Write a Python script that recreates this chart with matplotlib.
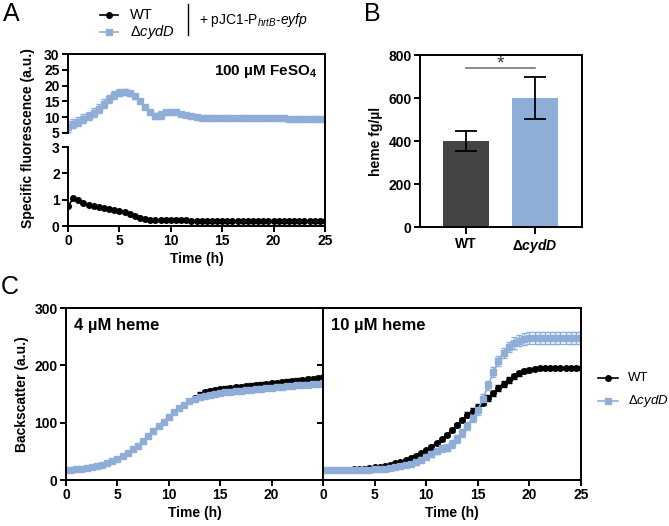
import numpy as np
import matplotlib
matplotlib.use('Agg')
import matplotlib.pyplot as plt
from matplotlib.lines import Line2D

plt.rcParams['font.family'] = ['Liberation Sans', 'DejaVu Sans']
plt.rcParams['mathtext.fontset'] = 'custom'
plt.rcParams['mathtext.rm'] = 'Liberation Sans'
plt.rcParams['mathtext.it'] = 'Liberation Sans:italic'
plt.rcParams['mathtext.bf'] = 'Liberation Sans:bold'
plt.rcParams['mathtext.bfit'] = 'Liberation Sans:italic:bold'

BLUE = '#8eaed8'
DARK = '#444444'

# ---- data ----
time_h = np.arange(0, 25.01, 0.5)

# A: specific fluorescence, 100 uM FeSO4
fl_wt = [0.75, 1.05, 0.97, 0.86, 0.79, 0.75, 0.73, 0.70, 0.65, 0.60, 0.57,
         0.52, 0.46, 0.39, 0.32, 0.27, 0.24, 0.23, 0.22, 0.22, 0.21, 0.21,
         0.21, 0.21, 0.20, 0.20, 0.20, 0.20, 0.20, 0.20, 0.20, 0.19, 0.19,
         0.19, 0.19, 0.19, 0.19, 0.19, 0.19, 0.19, 0.19, 0.18, 0.18, 0.18,
         0.18, 0.18, 0.18, 0.18, 0.18, 0.18, 0.18]
fl_cydd = [7.0, 8.0, 8.6, 9.5, 10.4, 11.4, 12.7, 14.3, 15.8, 17.0, 17.8,
           18.0, 17.6, 16.6, 15.0, 13.2, 11.6, 10.4, 10.7, 11.5, 11.8, 11.5,
           11.1, 10.7, 10.4, 10.1, 9.9, 9.8, 9.8, 9.8, 9.7, 9.7, 9.7,
           9.7, 9.7, 9.6, 9.6, 9.6, 9.6, 9.6, 9.6, 9.6, 9.6, 9.5,
           9.5, 9.5, 9.5, 9.5, 9.5, 9.5, 9.5]
fl_cydd_err = [1.8, 1.5, 1.4, 1.4, 1.4, 1.4, 1.4, 1.4, 1.3, 1.3, 1.2,
               1.0, 0.8, 0.7, 0.6, 0.6, 0.6, 0.9, 1.2, 0.7, 0.6, 0.5,
               0.5, 0.5, 0.5, 0.5, 0.5, 0.5, 0.5, 0.5, 0.5, 0.5, 0.5,
               0.5, 0.5, 0.5, 0.5, 0.5, 0.5, 0.5, 0.5, 0.5, 0.5, 0.5,
               0.5, 0.5, 0.5, 0.5, 0.5, 0.5, 0.6]

# B: heme content
strains = ['WT', 'Δ$\\mathbfit{cydD}$']
heme_mean = [400, 601]
heme_err = [45, 97]

# C: backscatter, 4 uM heme
bs4_wt = [17.5, 18, 18.5, 19.5, 20.5, 22, 24, 26.5, 29.5, 33, 37,
          41.5, 47, 53.5, 60, 68, 76, 85, 94, 102, 110, 118,
          125, 131.5, 138, 143, 149, 153, 155.5, 157, 158.5, 159.5, 160.5,
          161.5, 162.5, 163.5, 164.5, 165.5, 166.5, 167.5, 168.5, 169.5, 170.5,
          171.5, 172.5, 173.5, 174.5, 175.5, 176.5, 177.5, 178.5]
bs4_wt_err = [1, 1, 1, 1, 1, 1, 1, 1, 1, 1, 1,
              1, 1, 1, 1.5, 1.5, 1.5, 2, 2, 2, 2, 2.5,
              2.5, 3, 3, 3.5, 4, 4, 4, 4, 4, 4, 4,
              4, 4, 4, 4, 4, 4, 4, 4, 4, 4,
              4, 4, 4, 4, 4, 4, 4, 4]
bs4_cydd = [17.5, 18, 18.5, 19.5, 20.5, 22, 24, 26.5, 29.5, 33, 37,
            41.5, 47, 53.5, 60, 68, 76, 85, 94, 102, 110, 118,
            125, 131, 137, 141, 144.5, 147, 149, 150.5, 152, 153, 154,
            155, 156, 157, 157.5, 158.5, 159, 160, 161, 162, 162.5,
            163.5, 164, 165, 166, 166.5, 167.5, 168, 169]
bs4_cydd_err = [1.5] * 51

# C: backscatter, 10 uM heme
bs10_wt = [17.5, 17.5, 17.6, 17.8, 18, 18.3, 18.7, 19.2, 20, 21, 22,
           23.5, 25, 27, 29, 31.5, 34.5, 38, 42, 46.5, 52, 58,
           64, 71, 79, 87, 96, 105, 114, 121, 128, 135, 143,
           151, 160, 168, 175, 181, 186, 190, 192, 194, 195,
           195, 195.5, 195.5, 195.5, 195.5, 195.5, 195.5, 195.5]
bs10_wt_err = [1, 1, 1, 1, 1, 1, 1, 1, 1, 1, 1,
               1, 1, 1, 1.5, 1.5, 1.5, 2, 2, 2, 2.5, 2.5,
               3, 3, 3, 3.5, 4, 4, 4, 4.5, 5, 5, 5,
               5, 5, 5, 5, 4.5, 4, 3.5, 3, 2.5, 2,
               2, 2, 2, 2, 2, 2, 2, 2]
bs10_cydd = [17.5, 17.3, 17.2, 17, 17, 17, 17, 17.2, 17.5, 18, 18.5,
             19.2, 20, 21, 22.5, 24, 26, 28.5, 31.5, 35.5, 40, 45,
             50, 55, 56, 63, 72, 82, 95, 108, 122, 142, 165,
             188, 207, 222, 232, 239, 243, 246, 247.5, 248, 248,
             248, 248, 248, 248, 248, 248, 248, 248]
bs10_cydd_err = [1.5, 1.5, 1.5, 1.5, 1.5, 1.5, 1.5, 1.5, 2, 2, 2,
                 2, 2, 2, 2.5, 2.5, 3, 3, 3.5, 3.5, 4, 5,
                 5.5, 6, 6, 6.5, 7, 7, 7, 7.5, 8, 8, 8,
                 8.5, 9, 9, 9.5, 10, 10, 10, 10, 10, 10,
                 10, 10, 10, 10, 10, 10, 10, 10]

# ---- figure ----
W, H = 669, 526
fig = plt.figure(figsize=(W / 100, H / 100), dpi=100)
TICK_FS = 10
LABEL_FS = 10


def px_axes(x0, y0, x1, y1):
    return fig.add_axes([x0 / W, 1 - y1 / H, (x1 - x0) / W, (y1 - y0) / H])


def style(ax):
    for s in ax.spines.values():
        s.set_linewidth(1.4)
    ax.tick_params(width=1.4, length=4, labelsize=TICK_FS, pad=2)


def bold_ticks(ax):
    for lab in ax.get_xticklabels() + ax.get_yticklabels():
        lab.set_fontweight('bold')


def fig_line(xs, ys, **kw):
    fig.lines.append(Line2D([x / W for x in xs], [1 - y / H for y in ys],
                            transform=fig.transFigure, **kw))


# ---------------- Panel A ----------------
axA_top = px_axes(68, 54, 325, 140)
axA_bot = px_axes(68, 140, 325, 226)

axA_top.errorbar(time_h, fl_cydd, yerr=fl_cydd_err, fmt='s-', color=BLUE,
                 ms=4, lw=1.2, elinewidth=1, capsize=2, capthick=1)
axA_bot.plot(time_h, fl_wt, 'o-', color='black', ms=4, lw=1.2)

axA_top.set_ylim(2.78, 30)
axA_bot.set_ylim(0, 3.266)
for ax in (axA_top, axA_bot):
    ax.set_xlim(0, 25)
    style(ax)
axA_top.set_yticks([5, 10, 15, 20, 25, 30])
axA_top.spines['left'].set_bounds(5, 30)
axA_top.spines['bottom'].set_visible(False)
axA_top.set_xticks([])
axA_bot.set_yticks([0, 1, 2, 3])
axA_bot.spines['left'].set_bounds(0, 3)
axA_bot.spines['top'].set_visible(False)
axA_bot.set_xticks([0, 5, 10, 15, 20, 25])
axA_bot.set_xlabel('Time (h)', fontsize=LABEL_FS, fontweight='bold', labelpad=3)
bold_ticks(axA_top)
bold_ticks(axA_bot)
axA_top.text(0.97, 0.8, r'100 µM FeSO$_\mathbf{4}$', transform=axA_top.transAxes,
             ha='right', va='center', fontsize=11, fontweight='bold')
fig.text(28 / W, 1 - 138 / H, 'Specific fluorescence (a.u.)', rotation=90,
         ha='center', va='center', fontsize=LABEL_FS, fontweight='bold')

# legend A
fig_line([100, 118], [15, 15], color='black', lw=1.2)
fig_line([109], [15], color='black', marker='o', ms=4)
fig_line([100, 118], [32, 32], color=BLUE, lw=1.2)
fig_line([109], [32], color=BLUE, marker='s', ms=4)
fig.text(130 / W, 1 - 15 / H, 'WT', va='center', fontsize=10.5)
fig.text(130 / W, 1 - 32 / H, 'Δ$\\mathit{cydD}$', va='center', fontsize=10.5)
fig_line([188, 188], [4, 35], color='black', lw=1)
fig.text(199 / W, 1 - 20 / H, r'+ pJC1-P$_{\mathit{hrtB}}$-$\mathit{eyfp}$',
         va='center', fontsize=10)
fig.text(3 / W, 1 - 14 / H, 'A', va='center', fontsize=18)

# ---------------- Panel B ----------------
axB = px_axes(420, 55, 582, 227)
xb = np.arange(len(strains))
axB.bar(xb, heme_mean, width=0.667, color=[DARK, BLUE])
axB.errorbar(xb, heme_mean, yerr=heme_err, fmt='none', ecolor='black',
             elinewidth=1.3, capsize=8, capthick=1.3)
axB.set_xlim(-0.667, 1.68)
axB.set_ylim(0, 800)
axB.set_yticks([0, 200, 400, 600, 800])
axB.set_xticks(xb)
axB.set_xticklabels(strains)
style(axB)
axB.tick_params(axis='x', length=5)
bold_ticks(axB)
axB.set_ylabel('heme fg/µl', fontsize=LABEL_FS, fontweight='bold', labelpad=4)
axB.plot([0, 1], [740, 740], color='#777777', lw=1.2)
axB.text(0.5, 718, '*', ha='center', va='bottom', fontsize=14, color='#333333')
fig.text(364 / W, 1 - 14 / H, 'B', va='center', fontsize=18)

# ---------------- Panel C ----------------
axC1 = px_axes(66, 308, 323, 480)
axC2 = px_axes(323, 308, 581, 480)

axC1.errorbar(time_h, bs4_wt, yerr=bs4_wt_err, fmt='o-', color='black',
              ms=4, lw=1.2, elinewidth=1, capsize=2, capthick=1)
axC1.errorbar(time_h, bs4_cydd, yerr=bs4_cydd_err, fmt='s-', color=BLUE,
              ms=5, lw=1.2, elinewidth=1, capsize=2, capthick=1)
axC2.errorbar(time_h, bs10_wt, yerr=bs10_wt_err, fmt='o-', color='black',
              ms=4, lw=1.2, elinewidth=1, capsize=2, capthick=1)
axC2.errorbar(time_h, bs10_cydd, yerr=bs10_cydd_err, fmt='s-', color=BLUE,
              ms=4, lw=1.2, elinewidth=1, capsize=2, capthick=1)

for ax in (axC1, axC2):
    ax.set_xlim(0, 25)
    ax.set_ylim(0, 300)
    ax.set_xticks([0, 5, 10, 15, 20, 25])
    ax.set_yticks([0, 100, 200, 300])
    style(ax)
    ax.set_xlabel('Time (h)', fontsize=LABEL_FS, fontweight='bold', labelpad=3)
axC1.set_xticklabels(['0', '5', '10', '15', '20', ''])
axC2.set_yticklabels([])
bold_ticks(axC1)
bold_ticks(axC2)
axC1.set_ylabel('Backscatter (a.u.)', fontsize=LABEL_FS, fontweight='bold', labelpad=4)
axC1.text(0.03, 0.9, '4 µM heme', transform=axC1.transAxes, ha='left',
          va='center', fontsize=12, fontweight='bold')
axC2.text(0.03, 0.9, '10 µM heme', transform=axC2.transAxes, ha='left',
          va='center', fontsize=12, fontweight='bold')

# legend C
fig_line([598, 618], [378, 378], color='black', lw=1.2)
fig_line([608], [378], color='black', marker='o', ms=4)
fig_line([598, 618], [401, 401], color=BLUE, lw=1.2)
fig_line([608], [401], color=BLUE, marker='s', ms=4)
fig.text(628 / W, 1 - 378 / H, 'WT', va='center', fontsize=9.5)
fig.text(628 / W, 1 - 401 / H, 'Δ$\\mathit{cydD}$', va='center', fontsize=9.5)
fig.text(1 / W, 1 - 287 / H, 'C', va='center', fontsize=18)

fig.savefig('out.png', dpi=100)
